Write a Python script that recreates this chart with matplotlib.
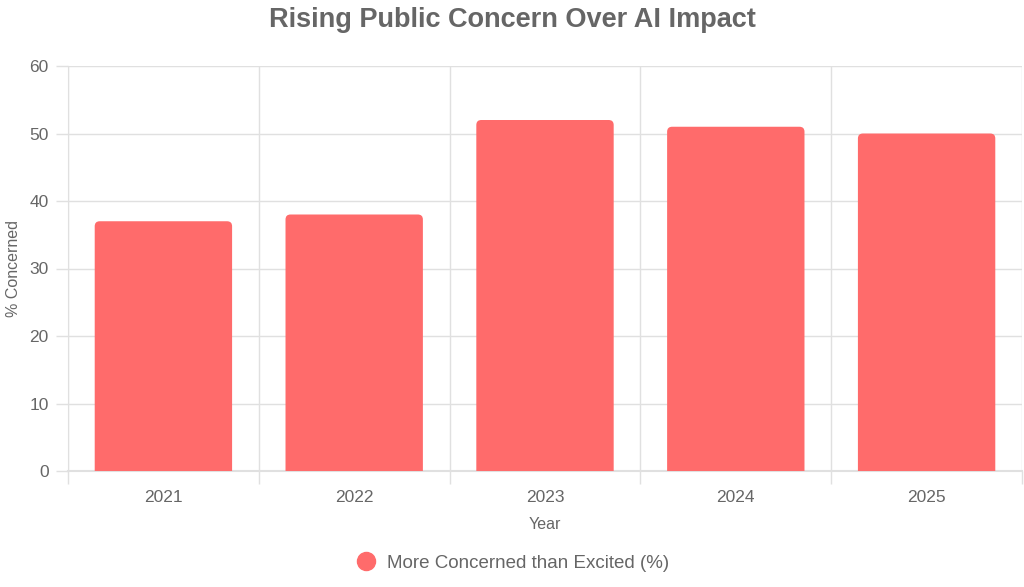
import numpy as np
import matplotlib
matplotlib.use("Agg")
from matplotlib import pyplot as plt
from matplotlib.patches import FancyBboxPatch
from matplotlib.lines import Line2D

years = ["2021", "2022", "2023", "2024", "2025"]
concerned = [37, 38, 52, 51, 50]

bar_color = "#FF6B6B"
text_color = "#666666"
grid_color = "#E0E0E0"

plt.rcParams['font.family'] = ['Liberation Sans', 'DejaVu Sans']

fig = plt.figure(figsize=(10.24, 5.87), dpi=100)
ax = fig.add_axes([68 / 1024, 1 - 471 / 587, (1022 - 68) / 1024, (471 - 66) / 587])

ax.set_xlim(-0.5, len(years) - 0.5)
ax.set_ylim(0, 60)

# rounded bars (bottom pushed below zero so only the top corners show)
width = 0.72
r_px = 5
px_x = ((1022 - 68)) / len(years)
px_y = (471 - 66) / 60
rx = r_px / px_x
aspect = (r_px / px_y) / rx
for i, v in enumerate(concerned):
    p = FancyBboxPatch((i - width / 2, -2), width, v + 2,
                       boxstyle=f"round,pad=0,rounding_size={rx}",
                       mutation_aspect=aspect,
                       facecolor=bar_color, edgecolor="none", zorder=3,
                       clip_on=True)
    ax.add_patch(p)

# grid
ax.set_yticks(np.arange(0, 61, 10))
ax.set_xticks(np.arange(len(years)))
ax.set_xticklabels(years)
ax.set_xticks(np.arange(-0.5, len(years), 1), minor=True)
ax.grid(True, axis="y", color=grid_color, linewidth=1, zorder=0)
ax.grid(True, axis="x", which="minor", color=grid_color, linewidth=1, zorder=0)
ax.tick_params(axis="x", which="major", length=0, pad=14, labelsize=12.5, labelcolor=text_color)
ax.tick_params(axis="x", which="minor", length=9, color=grid_color, width=1)
ax.tick_params(axis="y", length=9, color=grid_color, width=1, pad=5, labelsize=12.5, labelcolor=text_color)

for s in ["top", "right"]:
    ax.spines[s].set_visible(False)
ax.spines["left"].set_color(grid_color)
ax.spines["bottom"].set_color(grid_color)
ax.spines["bottom"].set_linewidth(1.5)

ax.set_xlabel("Year", fontsize=11.5, color=text_color, labelpad=8)
ax.set_ylabel("% Concerned", fontsize=11.5, color=text_color, labelpad=6)

fig.suptitle("Rising Public Concern Over AI Impact", fontsize=19.5, fontweight="bold",
             color=text_color, y=1 - 20 / 587, va="center")

handle = Line2D([], [], marker="o", linestyle="none", markersize=13,
                markerfacecolor=bar_color, markeredgecolor=bar_color)
fig.legend([handle], ["More Concerned than Excited (%)"], loc="center",
           bbox_to_anchor=(0.5, 1 - 563 / 587), frameon=False, fontsize=13.5,
           labelcolor=text_color, handletextpad=0.5, handlelength=1.2)

fig.savefig("out.png", dpi=100, facecolor="white")
